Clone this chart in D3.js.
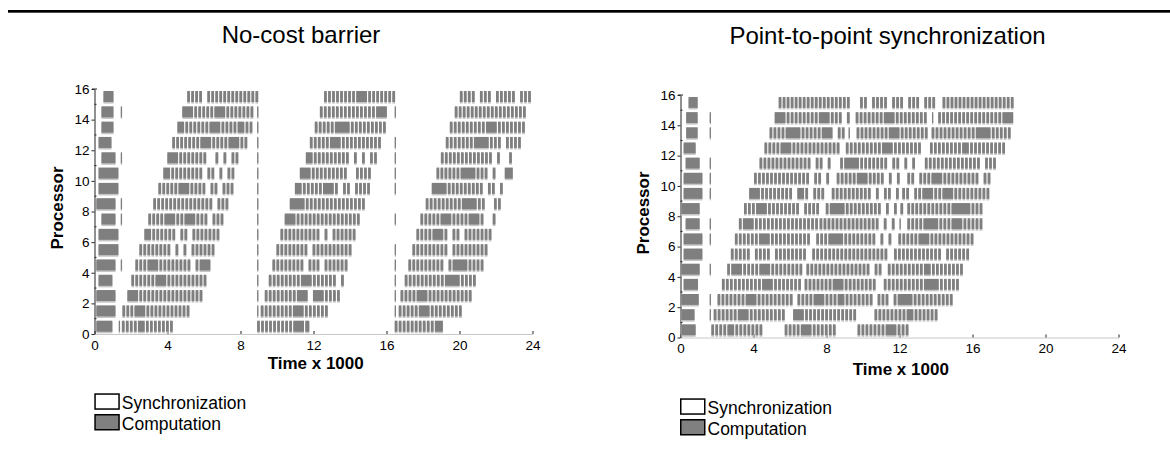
<!DOCTYPE html>
<html>
<head>
<meta charset="utf-8">
<script src="https://cdn.jsdelivr.net/npm/d3@7"></script>
<style>
  body { margin: 0; background: #fff; }
  svg { display: block; font-family: "Liberation Sans", Arial, sans-serif; }
</style>
</head>
<body>
<svg id="chart" width="1170" height="456"></svg>
<script>
// ---- data ----
const timeTicks = [0, 4, 8, 12, 16, 20, 24];
const procTicks = [0, 2, 4, 6, 8, 10, 12, 14, 16];
const panelTitles = ["No-cost barrier", "Point-to-point synchronization"];
const legendLabels = ["Synchronization", "Computation"];

// one pattern char = one slot of time (x 1000):
// '|' computation interval, '#' interval filling the slot, '.' very short one, ' ' synchronization
const SLOT = 0.22, BAR = 0.15, THIN = 0.07;

// first computation block of every processor, [start, end]
const barrierInit = [
  [0.10, 0.98], [0.10, 1.15], [0.10, 1.15], [0.22, 0.98], [0.10, 1.15], [0.22, 1.31],
  [0.22, 1.31], [0.38, 1.15], [0.10, 1.15], [0.22, 1.31], [0.22, 1.31], [0.38, 1.15],
  [0.22, 0.93], [0.38, 1.04], [0.38, 1.04], [0.49, 1.04]
];

// later intervals, one list per processor: [start, pattern]
const barrierRuns = [
  [[1.33, "."], [1.50, "||||#||||||||"], [8.91, "|||||||||##|#"], [16.45, "||||||||||##"]],
  [[1.53, "|||##||||||||||||"], [8.91, "."], [9.11, "||||||||##|||||||"], [16.45, ".|||||##|||||||||"]],
  [[1.80, "##|||||||||||||||||"], [8.91, "."], [9.33, "||||||||##| ##|||||"], [16.45, "."], [16.77, "||||##||||||||||||"]],
  [[2.02, "||||||##|||||||||||"], [8.91, "."], [9.55, "||||||||##||||||| |"], [16.45, "."], [17.00, "||||||||||###|||||"]],
  [[1.44, "."], [2.24, "|||##||||||||| |##|"], [8.91, "."], [9.75, "|||||||| ||| ||||||"], [16.45, "."], [17.20, "||||||||| |###|||||"]],
  [[2.46, "|||||||| | | ||||||"], [8.91, "."], [9.97, "|||||||| ||||||||||"], [16.45, "."], [17.42, "||||||||| |||||||||"]],
  [[2.73, "#||||||| || |||||||"], [8.91, "."], [10.19, "|||||||||| | ||||||"], [17.64, "||||##|| || |||||||"]],
  [[1.44, "."], [2.95, "||||##|||##|||| |||"], [8.91, "."], [10.42, "##|||||||||||||||||"], [16.45, "."], [17.86, "|||||##|||||##||  |"]],
  [[1.44, "."], [3.22, "||||||||||||||| |||"], [8.91, "."], [10.70, "###||||||||||||||||"], [18.15, "|||||||||###|||  ||"]],
  [[3.50, "|||||##||||| || |||"], [8.91, "."], [10.98, "#||||||##|| || ||||"], [16.45, "."], [18.48, "###|||||||||| || |"]],
  [[3.77, "#||||||||| || | ||"], [8.91, "."], [11.25, "##||||||||||  ||||"], [16.45, "."], [18.74, "||||||###|||| |  ##"]],
  [[1.44, "."], [3.99, "##||||||||  | | ||"], [8.91, "."], [11.58, "#|||||||||| | | ||"], [16.45, "."], [18.98, "||||||||||||| |  |"]],
  [[4.26, "|||||||##|||||##|||"], [8.91, "."], [11.80, "|||||##|||||||||||"], [16.45, "."], [19.25, "|||||||###|||| ||||"]],
  [[4.54, "#|||||||##|||||#|||"], [8.91, "."], [12.07, "|||||###||||||||||"], [19.47, "|||||||||##||||||||"]],
  [[1.44, "."], [4.81, "##||||||##||||||||"], [8.91, "."], [12.35, "||||||||||||||##|"], [16.45, "."], [19.74, "||||||||||||||||||"]],
  [[5.08, "|||| |||||||||||||"], [12.58, "||||||||##||||||||"], [20.02, "|||| ||| ||||| |||"]]
];

const p2pInit = [
  [0.04, 0.83], [0.04, 0.77], [0.04, 1.00], [0.17, 0.96], [0.04, 1.05], [0.17, 1.20],
  [0.17, 1.20], [0.28, 1.05], [0.04, 1.05], [0.17, 1.20], [0.17, 1.20], [0.28, 1.05],
  [0.17, 0.83], [0.31, 0.94], [0.31, 0.94], [0.44, 0.94]
];

const p2pRuns = [
  [[1.69, "||||#||||||||"], [5.71, "||||##|||||||"], [9.70, "|||||||##||||"]],
  [[1.60, "."], [1.82, "||||||##||||||||||"], [6.17, "##||||||||||||||"], [10.63, "||||||||#|||||||"]],
  [[1.60, "."], [2.03, "|||||||##||||||||||"], [6.41, "||||##||||#||||||||"], [10.80, "||| |###|||||||||||"]],
  [[2.27, "||||||||||##||||||||"], [6.80, "|||||||##|||||||||"], [11.14, "||||||||||###||||||"]],
  [[1.60, "."], [2.56, "|##|||||##|||||||||"], [6.90, "|||||||||||||||| ||"], [11.36, "|||||||||#|||||||||"]],
  [[2.76, "||||| |||| ||||||||"], [7.22, "|||||||||||||||||||"], [11.70, "|||||||||||| ||||||"]],
  [[1.60, "."], [2.98, "||||||##|||||||||||"], [7.44, "|||###||||||||| | |"], [11.94, "|||||##||||||||||||"]],
  [[1.60, "."], [3.20, "|##|||||||||||||||||"], [7.62, "||||||||||||||| | |"], [12.00, "."], [12.43, "||||###||||##||||||"]],
  [[3.48, "|||##||||||||| ||||"], [7.96, "|###|||||||||| | |"], [12.05, "|"], [12.43, "|||||||||||####||||"]],
  [[1.60, "."], [3.76, "##||||||||| #|| |||"], [8.29, "|||||||||| | || |"], [12.15, "|| ||##|||##||||||||||"]],
  [[1.60, "."], [4.03, "|||||||||||||| || |"], [8.56, "|||||##||||| | |"], [12.43, "|| |||##|||||||||| ||"]],
  [[1.60, "."], [4.33, "||||||||||||| || |"], [8.75, "|###|||||||| || |"], [12.70, "|"], [13.39, "|||||||||||||| |||"]],
  [[4.60, "||||##|||||||||||||"], [9.06, "|||||||||##||||||||"], [13.67, "||||||||#||||||||||"]],
  [[1.60, "."], [4.88, "||||###||||||##| ||"], [9.21, ". ||||||||##||||||||"], [13.76, "|||||||||||###||||||"]],
  [[1.60, "."], [5.16, "##|||||||||##|||| |"], [9.60, "|||||||##||||||||| ."], [14.12, "||||||||||||||||##|"]],
  [[5.38, "||||||||||||||||||"], [9.84, "|| |||| ||| ||| |||"], [14.36, "||||||||||||||||||"]]
];

// ---- helpers ----
function intervals(init, runs) {
  const out = [[init[0], init[1]]];
  runs.forEach(([t0, pat]) => {
    [...pat].forEach((c, k) => {
      const t = t0 + k * SLOT;
      if (c === "#") out.push([t, t + SLOT]);
      else if (c === "|") out.push([t, t + BAR]);
      else if (c === ".") out.push([t, t + THIN]);
    });
  });
  out.sort((a, b) => a[0] - b[0]);
  const merged = [];
  out.forEach(iv => {
    const last = merged[merged.length - 1];
    if (last && iv[0] <= last[1] + 1e-6) last[1] = Math.max(last[1], iv[1]);
    else merged.push([iv[0], iv[1]]);
  });
  return merged;
}

const svg = d3.select("#chart");

// rule across the top
svg.append("rect").attr("x", 8).attr("y", 10).attr("width", 1162).attr("height", 2.7).attr("fill", "#000");

const panels = [
  { title: panelTitles[0], init: barrierInit, runs: barrierRuns,
    x0: 94.5, x1: 532.5, y0: 334, y1: 89, titleX: 301, titleY: 43.3,
    ylabX: 63, ylabY: 208, xlabX: 315.7, xlabY: 369, legX: 94.3, legY: 393.3 },
  { title: panelTitles[1], init: p2pInit, runs: p2pRuns,
    x0: 680.5, x1: 1118.5, y0: 337.5, y1: 95, titleX: 887.5, titleY: 44.3,
    ylabX: 649, ylabY: 213, xlabX: 900.8, xlabY: 375, legX: 680, legY: 398.3 }
];

panels.forEach(p => {
  const x = d3.scaleLinear().domain([0, 24]).range([p.x0, p.x1]);
  const y = d3.scaleLinear().domain([0, 16]).range([p.y0, p.y1]);
  const g = svg.append("g");

  g.append("text").attr("x", p.titleX).attr("y", p.titleY)
    .attr("text-anchor", "middle").style("font-size", "24px").text(p.title);

  // x axis (light line, small inner ticks)
  const xa = g.append("g").attr("transform", `translate(0,${p.y0})`)
    .call(d3.axisBottom(x).tickValues(timeTicks).tickSizeInner(-3).tickSizeOuter(0).tickPadding(6));
  xa.select(".domain").attr("stroke", "#c8c8c8");
  xa.selectAll(".tick line").attr("stroke", "#222");
  xa.selectAll(".tick text").style("font-size", "13.5px").attr("fill", "#000")
    .attr("font-family", "Liberation Sans, Arial, sans-serif");

  // y axis
  const ya = g.append("g").attr("transform", `translate(${p.x0},0)`)
    .call(d3.axisLeft(y).tickValues(procTicks).tickSizeInner(3).tickSizeOuter(0).tickPadding(2));
  ya.select(".domain").attr("stroke", "#222");
  ya.selectAll(".tick line").attr("stroke", "#222");
  ya.selectAll(".tick text").style("font-size", "13.5px").attr("fill", "#000")
    .attr("font-family", "Liberation Sans, Arial, sans-serif");
  // minor ticks at odd processors
  g.selectAll(".minor").data(d3.range(1, 16, 2)).enter().append("line")
    .attr("x1", p.x0).attr("x2", p.x0 + 2)
    .attr("y1", d => y(d)).attr("y2", d => y(d)).attr("stroke", "#222");
  // cap at the top
  g.append("line").attr("x1", p.x0 - 2.5).attr("x2", p.x0 + 2.5)
    .attr("y1", y(16)).attr("y2", y(16)).attr("stroke", "#222");

  // bars
  const rows = p.init.map((iv, r) => intervals(iv, p.runs[r]).map(d => ({ r, t0: d[0], t1: d[1] })));
  const bars = rows.flat();
  const h = y(0.15) - y(0.87);
  g.append("g").selectAll("rect").data(bars).enter().append("rect")
    .attr("x", d => x(d.t0)).attr("width", d => x(d.t1) - x(d.t0))
    .attr("y", d => y(d.r + 0.87) + 1.6).attr("height", h)
    .attr("fill", "#c6c6c6");
  g.append("g").selectAll("rect").data(bars).enter().append("rect")
    .attr("x", d => x(d.t0)).attr("width", d => x(d.t1) - x(d.t0))
    .attr("y", d => y(d.r + 0.87)).attr("height", h)
    .attr("fill", "#7f7f7f");

  // axis titles
  g.append("text").attr("transform", `translate(${p.ylabX},${p.ylabY}) rotate(-90)`)
    .attr("text-anchor", "middle").style("font-size", "17px").style("font-weight", "bold")
    .text("Processor");
  g.append("text").attr("x", p.xlabX).attr("y", p.xlabY)
    .attr("text-anchor", "middle").style("font-size", "17px").style("font-weight", "bold")
    .text("Time x 1000");

  // legend
  const leg = g.append("g").attr("transform", `translate(${p.legX},${p.legY})`);
  legendLabels.forEach((lab, i) => {
    leg.append("rect").attr("x", 0.75).attr("y", i * 20.7 + 0.75).attr("width", 24).attr("height", 15)
      .attr("fill", i === 0 ? "#fff" : "#808080").attr("stroke", "#000").attr("stroke-width", 1.5);
    leg.append("text").attr("x", 27.5).attr("y", i * 20.7 + 16)
      .style("font-size", "17.5px").text(lab);
  });
});
</script>
</body>
</html>
